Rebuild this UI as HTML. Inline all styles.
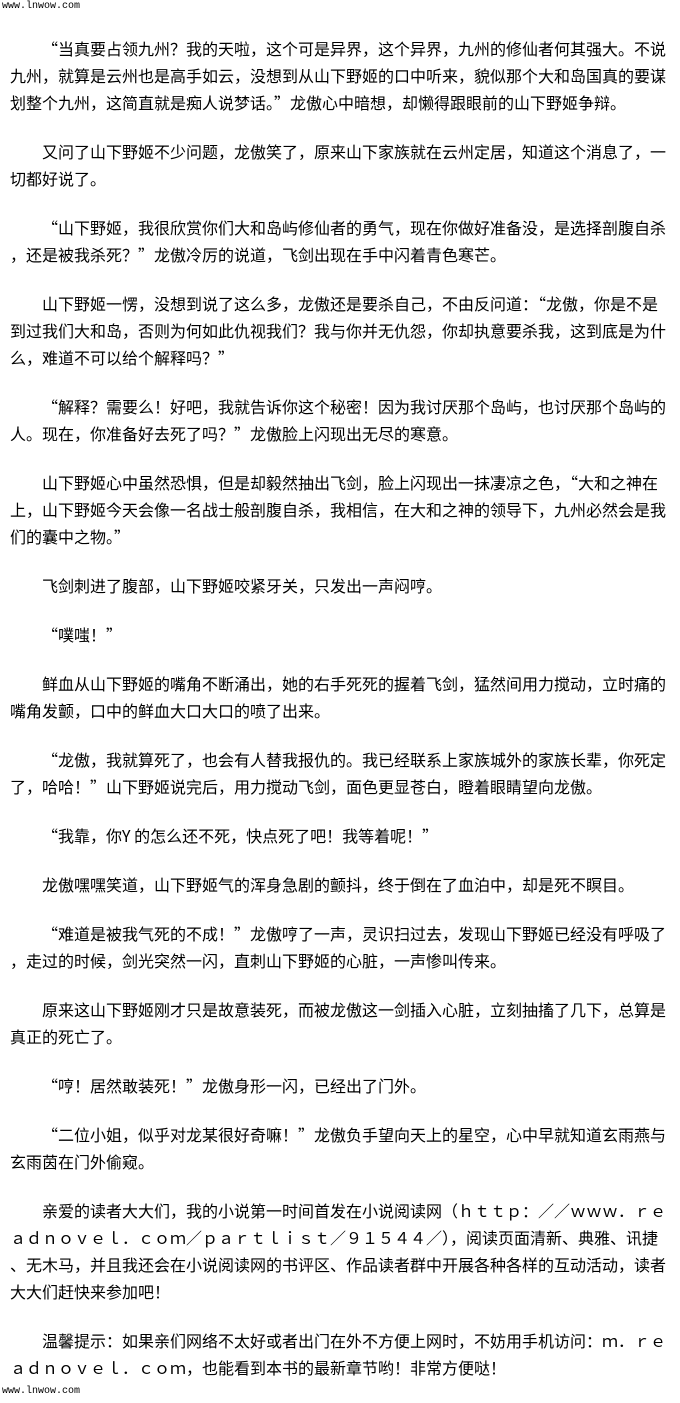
<!DOCTYPE html>
<html lang="zh-CN"><head><meta charset="utf-8">
<style>
html,body{margin:0;padding:0;background:#fff;}
body{width:680px;height:1401px;position:relative;overflow:hidden;font-family:"Noto Sans CJK SC","WenQuanYi Zen Hei",sans-serif;color:#000;}
.wrap{position:absolute;left:10px;top:34.5px;}
.p{font-size:16px;line-height:27px;white-space:nowrap;margin:0 0 22px 0;}
.i{display:inline-block;width:32px;}
.s{position:absolute;left:2px;font-family:"Liberation Mono",monospace;font-size:10px;color:#000;}
</style></head><body>
<div class="s" style="top:1px">www.lnwow.com</div>
<div class="wrap">
<div class="p"><span class="i"></span>“当真要占领九州？我的天啦，这个可是异界，这个异界，九州的修仙者何其强大。不说<br>九州，就算是云州也是高手如云，没想到从山下野姬的口中听来，貌似那个大和岛国真的要谋<br>划整个九州，这简直就是痴人说梦话。”龙傲心中暗想，却懒得跟眼前的山下野姬争辩。</div>
<div class="p"><span class="i"></span>又问了山下野姬不少问题，龙傲笑了，原来山下家族就在云州定居，知道这个消息了，一<br>切都好说了。</div>
<div class="p"><span class="i"></span>“山下野姬，我很欣赏你们大和岛屿修仙者的勇气，现在你做好准备没，是选择剖腹自杀<br>，还是被我杀死？”龙傲冷厉的说道，飞剑出现在手中闪着青色寒芒。</div>
<div class="p"><span class="i"></span>山下野姬一愣，没想到说了这么多，龙傲还是要杀自己，不由反问道：“龙傲，你是不是<br>到过我们大和岛，否则为何如此仇视我们？我与你并无仇怨，你却执意要杀我，这到底是为什<br>么，难道不可以给个解释吗？”</div>
<div class="p"><span class="i"></span>“解释？需要么！好吧，我就告诉你这个秘密！因为我讨厌那个岛屿，也讨厌那个岛屿的<br>人。现在，你准备好去死了吗？”龙傲脸上闪现出无尽的寒意。</div>
<div class="p"><span class="i"></span>山下野姬心中虽然恐惧，但是却毅然抽出飞剑，脸上闪现出一抹凄凉之色，“大和之神在<br>上，山下野姬今天会像一名战士般剖腹自杀，我相信，在大和之神的领导下，九州必然会是我<br>们的囊中之物。”</div>
<div class="p"><span class="i"></span>飞剑刺进了腹部，山下野姬咬紧牙关，只发出一声闷哼。</div>
<div class="p"><span class="i"></span>“噗嗤！”</div>
<div class="p"><span class="i"></span>鲜血从山下野姬的嘴角不断涌出，她的右手死死的握着飞剑，猛然间用力搅动，立时痛的<br>嘴角发颤，口中的鲜血大口大口的喷了出来。</div>
<div class="p"><span class="i"></span>“龙傲，我就算死了，也会有人替我报仇的。我已经联系上家族城外的家族长辈，你死定<br>了，哈哈！”山下野姬说完后，用力搅动飞剑，面色更显苍白，瞪着眼睛望向龙傲。</div>
<div class="p"><span class="i"></span>“我靠，你Y 的怎么还不死，快点死了吧！我等着呢！”</div>
<div class="p"><span class="i"></span>龙傲嘿嘿笑道，山下野姬气的浑身急剧的颤抖，终于倒在了血泊中，却是死不瞑目。</div>
<div class="p"><span class="i"></span>“难道是被我气死的不成！”龙傲哼了一声，灵识扫过去，发现山下野姬已经没有呼吸了<br>，走过的时候，剑光突然一闪，直刺山下野姬的心脏，一声惨叫传来。</div>
<div class="p"><span class="i"></span>原来这山下野姬刚才只是故意装死，而被龙傲这一剑插入心脏，立刻抽搐了几下，总算是<br>真正的死亡了。</div>
<div class="p"><span class="i"></span>“哼！居然敢装死！”龙傲身形一闪，已经出了门外。</div>
<div class="p"><span class="i"></span>“二位小姐，似乎对龙某很好奇嘛！”龙傲负手望向天上的星空，心中早就知道玄雨燕与<br>玄雨茵在门外偷窥。</div>
<div class="p"><span class="i"></span>亲爱的读者大大们，我的小说第一时间首发在小说阅读网（ｈｔｔｐ：／／ｗｗｗ．ｒｅ<br>ａｄｎｏｖｅｌ．ｃｏｍ／ｐａｒｔｌｉｓｔ／９１５４４／），阅读页面清新、典雅、讯捷<br>、无木马，并且我还会在小说阅读网的书评区、作品读者群中开展各种各样的互动活动，读者<br>大大们赶快来参加吧！</div>
<div class="p"><span class="i"></span>温馨提示：如果亲们网络不太好或者出门在外不方便上网时，不妨用手机访问：ｍ．ｒｅ<br>ａｄｎｏｖｅｌ．ｃｏｍ，也能看到本书的最新章节哟！非常方便哒！</div>
</div>
<div class="s" style="top:1386px">www.lnwow.com</div>
</body></html>
